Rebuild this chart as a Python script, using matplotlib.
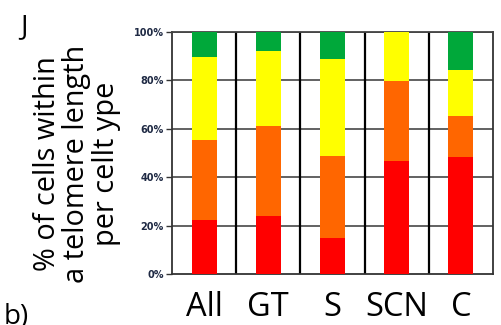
import numpy as np
import matplotlib.pyplot as plt

categories = ["All", "GT", "S", "SCN", "C"]
red = [22.4, 24.0, 15.0, 46.8, 48.5]
orange = [33.1, 37.2, 33.9, 33.0, 16.8]
yellow = [34.0, 31.1, 40.1, 20.2, 19.0]
green = [10.5, 7.7, 11.0, 0.0, 15.7]
yticks = [0, 20, 40, 60, 80, 100]
ytick_labels = ["0%", "20%", "40%", "60%", "80%", "100%"]

series = [red, orange, yellow, green]
colors = ["#FF0000", "#FF6600", "#FFFF00", "#00A83A"]

fig = plt.figure(figsize=(5.02, 3.25), dpi=100)
ax = fig.add_axes([172/502, 1-274/325, (493-172)/502, (274-32)/325])

x = np.arange(len(categories))
bottom = np.zeros(len(categories))
for vals, c in zip(series, colors):
    ax.bar(x, vals, width=0.39, bottom=bottom, color=c, zorder=3)
    bottom += np.array(vals)

ax.set_xlim(-0.5, len(categories) - 0.5)
ax.set_ylim(0, 100)
for yv in yticks[1:]:
    ax.axhline(yv, color="#555555", lw=1.3, zorder=1)
for xv in x[:-1] + 0.5:
    ax.axvline(xv, color="black", lw=1.6, zorder=2)

ax.set_yticks(yticks)
ax.set_yticklabels(ytick_labels, fontsize=7, fontweight="bold", color="#1F2A44",
                   family="DejaVu Sans")
ax.tick_params(axis="y", length=4, width=1, color="#333333", pad=2)
ax.set_xticks(x)
ax.set_xticklabels(categories, fontsize=23.5, family="Open Sans")
ax.tick_params(axis="x", length=0, pad=12)

for s in ["left", "bottom", "right", "top"]:
    ax.spines[s].set_linewidth(1.3)
    ax.spines[s].set_color("#333333")
ax.spines["top"].set_color("#444444")

fig.text(24/502, 1-27/325, "J", fontsize=20, ha="center", va="center", family="Open Sans")
fig.text(77/502, 1-164/325, "% of cells within\na telomere length\nper cellt ype",
         fontsize=20.8, rotation=90, ha="center", va="center", linespacing=1.02,
         family="Open Sans")
fig.text(4/502, -6/325, "b)", fontsize=20, ha="left", va="bottom", family="Open Sans")

fig.savefig("out.png", dpi=100)
